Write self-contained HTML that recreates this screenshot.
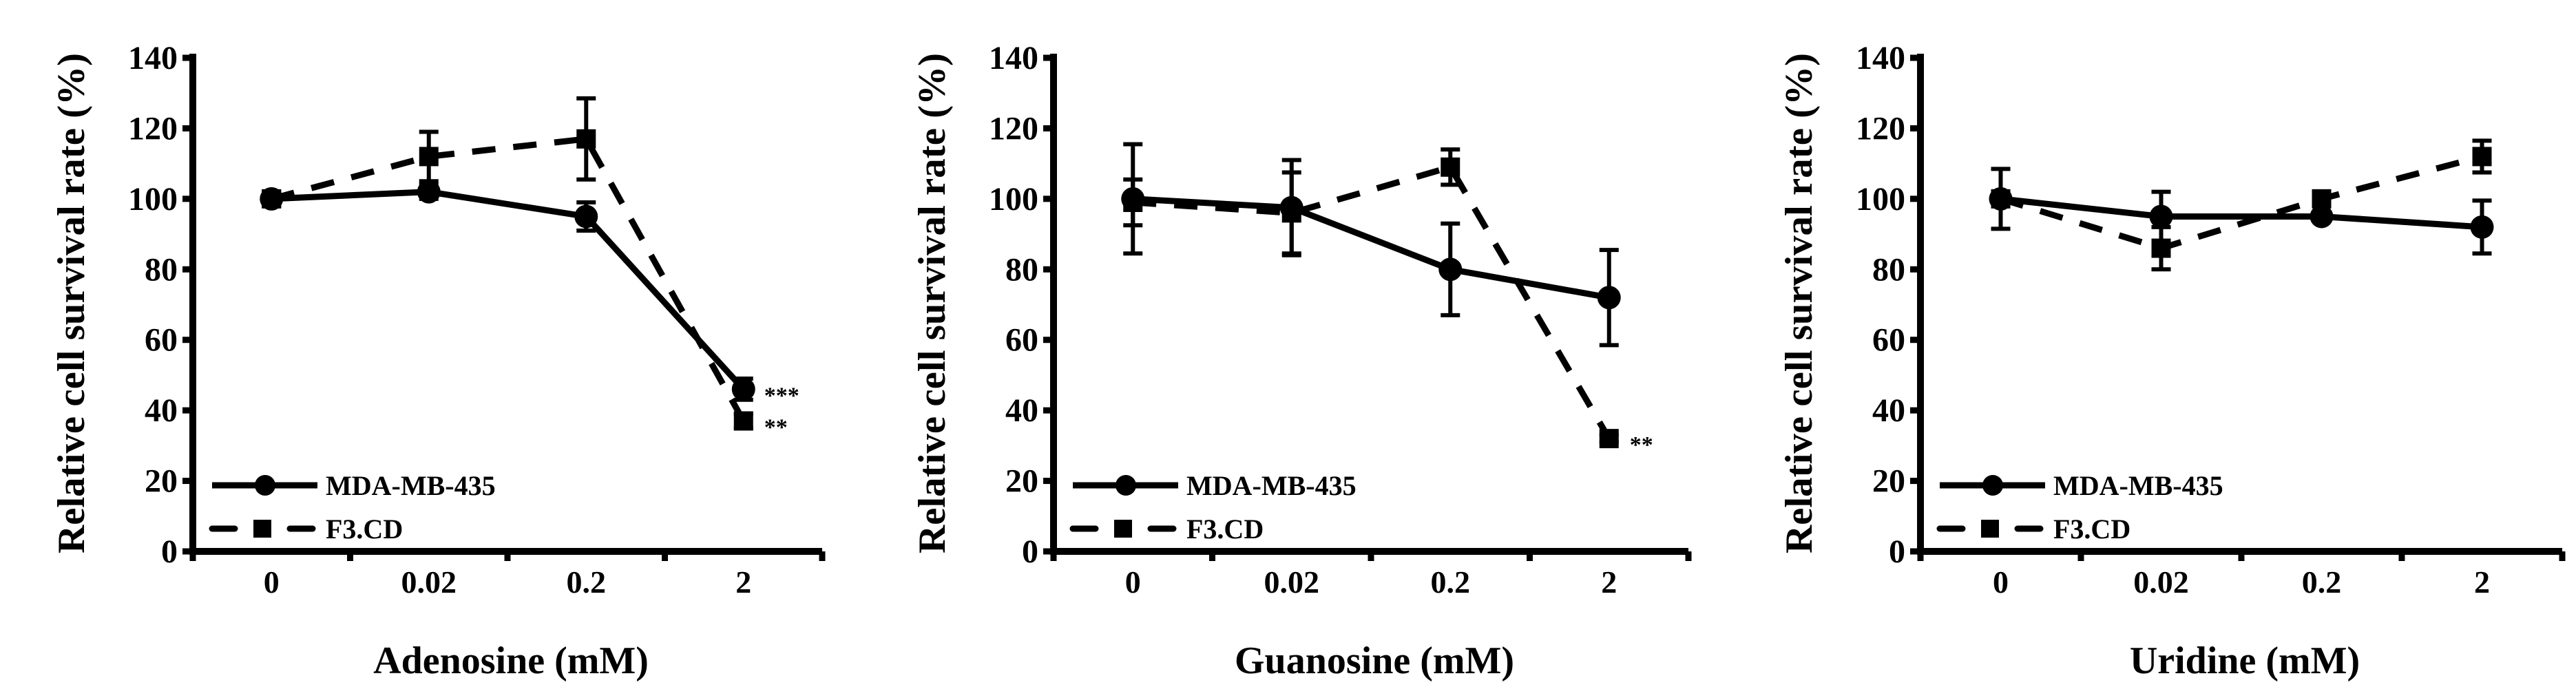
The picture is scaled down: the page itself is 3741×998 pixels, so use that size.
<!DOCTYPE html>
<html><head><meta charset="utf-8">
<style>
html,body{margin:0;padding:0;background:#fff;}
svg{display:block;}
text{font-family:"Liberation Serif",serif;font-weight:bold;fill:#000;}
</style></head>
<body>
<svg id="fig" width="3741" height="998" viewBox="0 0 3741 998"></svg>
<script>
const categories = ["0","0.02","0.2","2"];
const yTicks = [0,20,40,60,80,100,120,140];
const panelTitles = ["Adenosine (mM)","Guanosine (mM)","Uridine (mM)"];
const mdaValues = [[100,102,95,46],[100,97.5,80,72],[100,95,95,92]];
const mdaErrors = [[2,2,4,3],[15.5,13.5,13,13.5],[8.5,7,1,7.5]];
const f3Values = [[100,112,117,37],[99,96,109,32],[100,86,100,112]];
const f3Errors = [[2,7,11.5,2],[6.5,11.5,5,1],[2,6,2,4.5]];
const stars = [[["***","mda"],["**","f3"]],[["**","f3"]],[]];

const panels=[{x0:280,x1:1194},{x0:1530,x1:2452},{x0:2789,x1:3721}];
const Y0=801, Y140=84;
const svg=document.getElementById('fig');
const NS='http://www.w3.org/2000/svg';
function mk(tag,attrs,parent){const e=document.createElementNS(NS,tag);for(const k in attrs)e.setAttribute(k,attrs[k]);(parent||svg).appendChild(e);return e;}
function yS(v){return Y0-(v/140)*(Y0-Y140);}

panels.forEach((p,pi)=>{
  const g=mk('g',{});
  
  
  const xS=i=>p.x0+(i+0.5)*(p.x1-p.x0)/4;
  const ax=mk('path',{d:`M${p.x0} ${Y140-6}V${Y0+5}M${p.x0-5} ${Y0}H${p.x1}`,stroke:'#000','stroke-width':10,fill:'none'},g);
  
  
  yTicks.forEach(t=>{
    const y=yS(t);
    mk('line',{x1:p.x0-15,x2:p.x0,y1:y,y2:y,stroke:'#000','stroke-width':9},g);
    const tx=mk('text',{x:p.x0-22,y:y+16,'text-anchor':'end','font-size':48},g);
    tx.textContent=t;
    
    
  });
  for(let i=0;i<=4;i++){
    const x=p.x0+i*(p.x1-p.x0)/4;
    mk('line',{x1:x,x2:x,y1:Y0,y2:Y0+14,stroke:'#000','stroke-width':9},g);
  }
  categories.forEach((c,i)=>{
    const tx=mk('text',{x:xS(i),y:Y0+60,'text-anchor':'middle','font-size':46},g);
    tx.textContent=c;
    
    
  });
  const yt=mk('text',{x:0,y:0,'text-anchor':'middle','font-size':56,textLength:727,lengthAdjust:'spacingAndGlyphs',transform:`translate(${p.x0-158},${(Y0+Y140)/2-2}) rotate(-90)`},g);
  yt.textContent='Relative cell survival rate (%)';
  
  
  const xt=mk('text',{x:(p.x0+p.x1)/2+5,y:978,'text-anchor':'middle','font-size':56},g);
  xt.textContent=panelTitles[pi];
  
  

  const series=[{v:f3Values[pi],e:f3Errors[pi],dash:'34 26',shape:'sq',name:'f3cd'},{v:mdaValues[pi],e:mdaErrors[pi],dash:'',shape:'c',name:'mda-mb-435'}];
  series.forEach(s=>{
    const d=s.v.map((v,i)=>(i?'L':'M')+xS(i)+' '+yS(v)).join('');
    const ln=mk('path',{d:d,stroke:'#000','stroke-width':9,fill:'none','stroke-dasharray':s.dash},g);
    
    
    s.v.forEach((v,i)=>{
      const x=xS(i),yt2=yS(v+s.e[i]),yb=yS(v-s.e[i]);
      const eb=mk('path',{d:`M${x} ${yt2}V${yb}M${x-14} ${yt2}H${x+14}M${x-14} ${yb}H${x+14}`,stroke:'#000','stroke-width':6,fill:'none'},g);
      
      
      let m;
      if(s.shape==='c') m=mk('circle',{cx:x,cy:yS(v),r:17,fill:'#000'},g);
      else m=mk('rect',{x:x-14,y:yS(v)-14,width:28,height:28,fill:'#000'},g);
      
      
    });
  });
  stars[pi].forEach(st=>{
    const v=st[1]==='mda'?mdaValues[pi][3]:f3Values[pi][3];
    const tx=mk('text',{x:xS(3)+30,y:yS(v)+20,'font-size':34},g);
    tx.textContent=st[0];
    
    
  });
  const lx=p.x0+28, ly1=705, ly2=768;
  const l1=mk('line',{x1:lx,x2:lx+153,y1:ly1,y2:ly1,stroke:'#000','stroke-width':9},g);
  
  
  mk('circle',{cx:lx+77,cy:ly1,r:15,fill:'#000'},g);
  const t1=mk('text',{x:lx+165,y:ly1+14,'font-size':40},g);
  t1.textContent='MDA-MB-435';
  
  
  const l2=mk('path',{d:`M${lx} ${ly2}h33M${lx+113} ${ly2}h33`,stroke:'#000','stroke-width':9,'stroke-linecap':'round'},g);
  
  
  mk('rect',{x:lx+60,y:ly2-13,width:26,height:26,fill:'#000'},g);
  const t2=mk('text',{x:lx+165,y:ly2+14,'font-size':40},g);
  t2.textContent='F3.CD';
  
  
});
</script>
</body></html>
